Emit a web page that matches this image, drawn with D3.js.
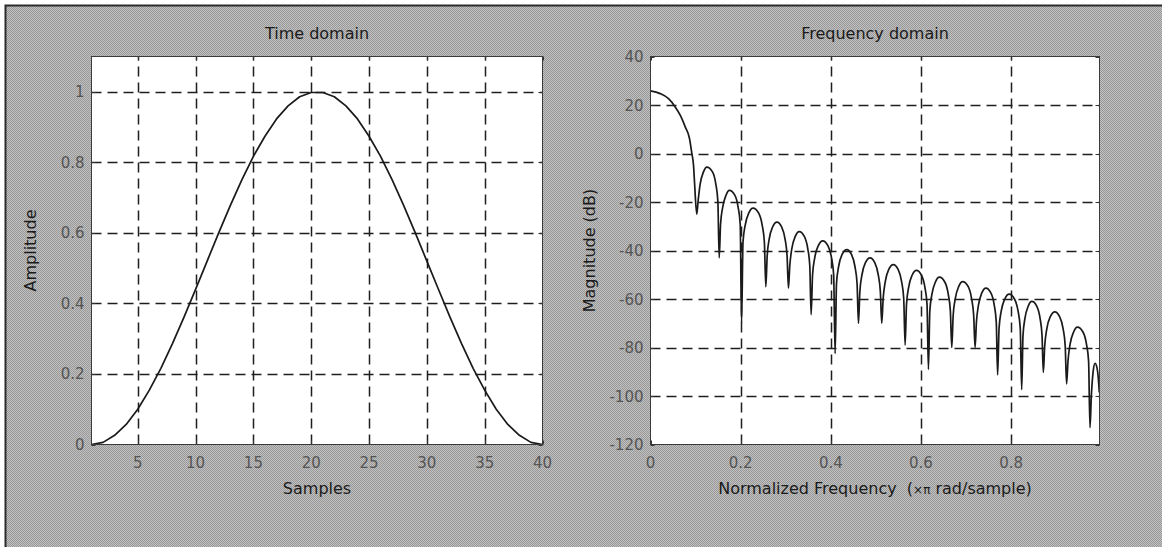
<!DOCTYPE html>
<html>
<head>
<meta charset="utf-8">
<script src="https://cdn.jsdelivr.net/npm/d3@7/dist/d3.min.js"></script>
<style>
  html, body { margin: 0; padding: 0; background: #ffffff; }
  svg { display: block; }
  text { font-family: "DejaVu Sans", Verdana, sans-serif; }
</style>
</head>
<body>
<svg id="fig" width="1162" height="547"></svg>
<script>
// ---- Time domain: 40-point window ----
const sampleIndex = [1, 2, 3, 4, 5, 6, 7, 8, 9, 10, 11, 12, 13, 14, 15, 16, 17, 18, 19, 20,
                     21, 22, 23, 24, 25, 26, 27, 28, 29, 30, 31, 32, 33, 34, 35, 36, 37, 38, 39, 40];
const amplitude = [0, 0.006, 0.026, 0.057, 0.100, 0.154, 0.216, 0.286, 0.361, 0.440,
                   0.520, 0.600, 0.677, 0.750, 0.817, 0.874, 0.923, 0.960, 0.986, 0.998,
                   0.998, 0.986, 0.960, 0.923, 0.874, 0.817, 0.750, 0.677, 0.600, 0.520,
                   0.440, 0.361, 0.286, 0.216, 0.154, 0.100, 0.057, 0.026, 0.006, 0];
const sampleTicks = [5, 10, 15, 20, 25, 30, 35, 40];
const amplitudeTicks = [0, 0.2, 0.4, 0.6, 0.8, 1];

// ---- Frequency domain: magnitude response (dB) ----
const normFreq = [
  0, 0.0215, 0.040, 0.0548, 0.0659, 0.077, 0.0865, 0.0917, 0.0954, 0.0976,
  0.1026, 0.1056, 0.1101, 0.1175, 0.125, 0.1375, 0.1449, 0.1494,
  0.1524, 0.1554, 0.1601, 0.1675, 0.175, 0.1870, 0.1944, 0.1990,
  0.2020, 0.2052, 0.2101, 0.2181, 0.2275, 0.2397, 0.2477, 0.2526,
  0.2558, 0.2588, 0.2633, 0.2709, 0.2805, 0.2909, 0.2985, 0.3030,
  0.3060, 0.3090, 0.3135, 0.3211, 0.3300, 0.3412, 0.3488, 0.3533,
  0.3563, 0.3595, 0.3643, 0.3723, 0.3820, 0.3935, 0.4015, 0.4063,
  0.4095, 0.4126, 0.4173, 0.4250, 0.4354, 0.4458, 0.4535, 0.4582,
  0.4613, 0.4644, 0.4691, 0.4768, 0.4870, 0.4975, 0.5052, 0.5099,
  0.5130, 0.5161, 0.5208, 0.5285, 0.5385, 0.5493, 0.5570, 0.5617,
  0.5648, 0.5679, 0.5726, 0.5803, 0.5900, 0.6010, 0.6087, 0.6134,
  0.6165, 0.6196, 0.6243, 0.6320, 0.6410, 0.6528, 0.6605, 0.6652,
  0.6683, 0.6714, 0.6761, 0.6838, 0.6925, 0.7045, 0.7122, 0.7169,
  0.7200, 0.7230, 0.7275, 0.7350, 0.7440, 0.7550, 0.7625, 0.7670,
  0.7700, 0.7732, 0.7780, 0.7860, 0.7955, 0.8074, 0.8154, 0.8202,
  0.8234, 0.8263, 0.8306, 0.8378, 0.8460, 0.8570, 0.8642, 0.8685,
  0.8714, 0.8745, 0.8791, 0.8869, 0.8970, 0.9075, 0.9153, 0.9199,
  0.9230, 0.9261, 0.9308, 0.9386, 0.9470, 0.9593, 0.9671, 0.9718,
  0.9749, 0.9779, 0.9825, 0.9861, 0.9900, 0.9935, 0.9955
];
const magnitudeDb = [
  25.8, 24.7, 22.6, 19.2, 15.8, 11.0, 6.2, 0.0, -4.8, -11.7,
  -25.0, -19.6, -12.6, -7.6, -5.6, -7.6, -12.6, -19.6,
  -43.0, -29.2, -22.2, -17.2, -15.2, -17.2, -22.2, -29.2,
  -70.0, -36.5, -29.5, -24.5, -22.5, -24.5, -29.5, -36.5,
  -55.0, -42.3, -35.3, -30.3, -28.3, -30.3, -35.3, -42.3,
  -55.5, -46.2, -39.2, -34.2, -32.2, -34.2, -39.2, -46.2,
  -66.5, -50.0, -43.0, -38.0, -36.0, -38.0, -43.0, -50.0,
  -82.5, -53.6, -46.6, -41.6, -39.6, -41.6, -46.6, -53.6,
  -70.0, -57.0, -50.0, -45.0, -43.0, -45.0, -50.0, -57.0,
  -70.0, -59.8, -52.8, -47.8, -45.8, -47.8, -52.8, -59.8,
  -79.0, -62.2, -55.2, -50.2, -48.2, -50.2, -55.2, -62.2,
  -89.0, -65.0, -58.0, -53.0, -51.0, -53.0, -58.0, -65.0,
  -80.0, -66.8, -59.8, -54.8, -52.8, -54.8, -59.8, -66.8,
  -80.0, -69.5, -62.5, -57.5, -55.5, -57.5, -62.5, -69.5,
  -91.3, -72.0, -65.0, -60.0, -58.0, -60.0, -65.0, -72.0,
  -97.4, -75.0, -68.0, -63.0, -61.0, -63.0, -68.0, -75.0,
  -90.3, -79.3, -72.3, -67.3, -65.3, -67.3, -72.3, -79.3,
  -95.0, -85.6, -78.6, -73.6, -71.6, -73.6, -78.6, -85.6,
  -113.0, -100.0, -89.0, -86.5, -88.0, -93.0, -98.5
];
const freqTicks = [0, 0.2, 0.4, 0.6, 0.8];
const dbTicks = [-120, -100, -80, -60, -40, -20, 0, 20, 40];

// ---- figure ----
const svg = d3.select("#fig");
const W = 1162, H = 547;

// dithered grey figure background
const defs = svg.append("defs");
const pat = defs.append("pattern")
  .attr("id", "dither").attr("width", 2).attr("height", 2)
  .attr("patternUnits", "userSpaceOnUse");
pat.append("rect").attr("width", 2).attr("height", 2).attr("fill", "#c2c2c2");
pat.append("rect").attr("width", 1).attr("height", 1).attr("fill", "#979797");
pat.append("rect").attr("x", 1).attr("y", 1).attr("width", 1).attr("height", 1).attr("fill", "#979797");

svg.append("rect").attr("width", W).attr("height", H).attr("fill", "#ffffff");
svg.append("rect").attr("x", 5).attr("y", 5).attr("width", W - 5).attr("height", H - 5)
  .attr("fill", "url(#dither)");
svg.append("path").attr("d", `M5.5,${H}V5.5H${W}`)
  .attr("fill", "none").attr("stroke", "#2a2a2a").attr("stroke-width", 2);

const GRID = "#1e1e1e", CURVE = "#1a1a1a", TICKTXT = "#555555", LABEL = "#1a1a1a";

function panel(box, xScale, yScale, xTicks, yTicks, opts) {
  const g = svg.append("g");
  // white plot area
  g.append("rect")
    .attr("x", box.x0).attr("y", box.y0)
    .attr("width", box.x1 - box.x0).attr("height", box.y1 - box.y0)
    .attr("fill", "#ffffff");

  // dashed grid
  const grid = g.append("g").attr("stroke", GRID).attr("stroke-width", 1.5)
    .attr("stroke-dasharray", "10,6").attr("fill", "none");
  xTicks.filter(v => xScale(v) > box.x0 + 1 && xScale(v) < box.x1 - 1).forEach(v => {
    const x = Math.round(xScale(v)) + 0.5;
    grid.append("line").attr("x1", x).attr("x2", x).attr("y1", box.y1).attr("y2", box.y0);
  });
  yTicks.filter(v => yScale(v) > box.y0 + 1 && yScale(v) < box.y1 - 1).forEach(v => {
    const y = Math.round(yScale(v)) + 0.5;
    grid.append("line").attr("x1", box.x0).attr("x2", box.x1).attr("y1", y).attr("y2", y);
  });

  // inward tick marks on all four sides
  const tk = g.append("g").attr("stroke", "#333").attr("stroke-width", 1);
  xTicks.forEach(v => {
    const x = Math.round(xScale(v)) + 0.5;
    tk.append("line").attr("x1", x).attr("x2", x).attr("y1", box.y1).attr("y2", box.y1 - 4);
    tk.append("line").attr("x1", x).attr("x2", x).attr("y1", box.y0).attr("y2", box.y0 + 4);
  });
  yTicks.forEach(v => {
    const y = Math.round(yScale(v)) + 0.5;
    tk.append("line").attr("x1", box.x0).attr("x2", box.x0 + 4).attr("y1", y).attr("y2", y);
    tk.append("line").attr("x1", box.x1).attr("x2", box.x1 - 4).attr("y1", y).attr("y2", y);
  });

  // data curve
  g.append("path")
    .datum(opts.data)
    .attr("fill", "none").attr("stroke", CURVE).attr("stroke-width", 1.7)
    .attr("stroke-linejoin", "round")
    .attr("d", d3.line().x(d => xScale(d[0])).y(d => yScale(d[1])).curve(opts.curve));

  // frame
  g.append("rect")
    .attr("x", box.x0).attr("y", box.y0)
    .attr("width", box.x1 - box.x0).attr("height", box.y1 - box.y0)
    .attr("fill", "none").attr("stroke", "#3a3a3a").attr("stroke-width", 1);

  // tick labels
  const lab = g.append("g").attr("fill", TICKTXT).attr("font-size", 15);
  xTicks.forEach(v => {
    lab.append("text").attr("x", xScale(v)).attr("y", box.y1 + 23)
      .attr("text-anchor", "middle").text(String(v));
  });
  yTicks.forEach(v => {
    lab.append("text").attr("x", box.x0 - 7).attr("y", yScale(v) + 5.5)
      .attr("text-anchor", "end").text(String(v));
  });

  // title and axis labels
  const cx = (box.x0 + box.x1) / 2, cy = (box.y0 + box.y1) / 2;
  g.append("text").attr("x", cx).attr("y", 39).attr("text-anchor", "middle")
    .attr("font-size", 16).attr("fill", LABEL).text(opts.title);
  const xl = g.append("text").attr("x", cx).attr("y", 494).attr("text-anchor", "middle")
    .attr("font-size", 16).attr("fill", LABEL).style("white-space", "pre");
  opts.xLabel(xl);
  g.append("text")
    .attr("transform", `translate(${box.x0 - 56},${cy}) rotate(-90)`)
    .attr("text-anchor", "middle").attr("font-size", 16).attr("fill", LABEL)
    .text(opts.yLabel);
}

// left panel
const box1 = { x0: 91.5, x1: 542.5, y0: 56.5, y1: 444.5 };
const xT = d3.scaleLinear().domain([1, 40]).range([box1.x0, box1.x1]);
const yT = d3.scaleLinear().domain([0, 1.1]).range([box1.y1, box1.y0]);
panel(box1, xT, yT, sampleTicks, amplitudeTicks, {
  data: sampleIndex.map((s, i) => [s, amplitude[i]]),
  curve: d3.curveLinear,
  title: "Time domain",
  xLabel: t => t.text("Samples"),
  yLabel: "Amplitude"
});

// right panel
const box2 = { x0: 650.5, x1: 1099.5, y0: 56.5, y1: 444.5 };
const xF = d3.scaleLinear().domain([0, 0.996]).range([box2.x0, box2.x1]);
const yF = d3.scaleLinear().domain([-120, 40]).range([box2.y1, box2.y0]);
panel(box2, xF, yF, freqTicks, dbTicks, {
  data: normFreq.map((f, i) => [f, magnitudeDb[i]]),
  curve: d3.curveMonotoneX,
  title: "Frequency domain",
  xLabel: t => {
    t.append("tspan").text("Normalized Frequency\u00a0\u00a0(");
    t.append("tspan").attr("font-size", 12).text("×π");
    t.append("tspan").text(" rad/sample)");
  },
  yLabel: "Magnitude (dB)"
});
</script>
</body>
</html>
